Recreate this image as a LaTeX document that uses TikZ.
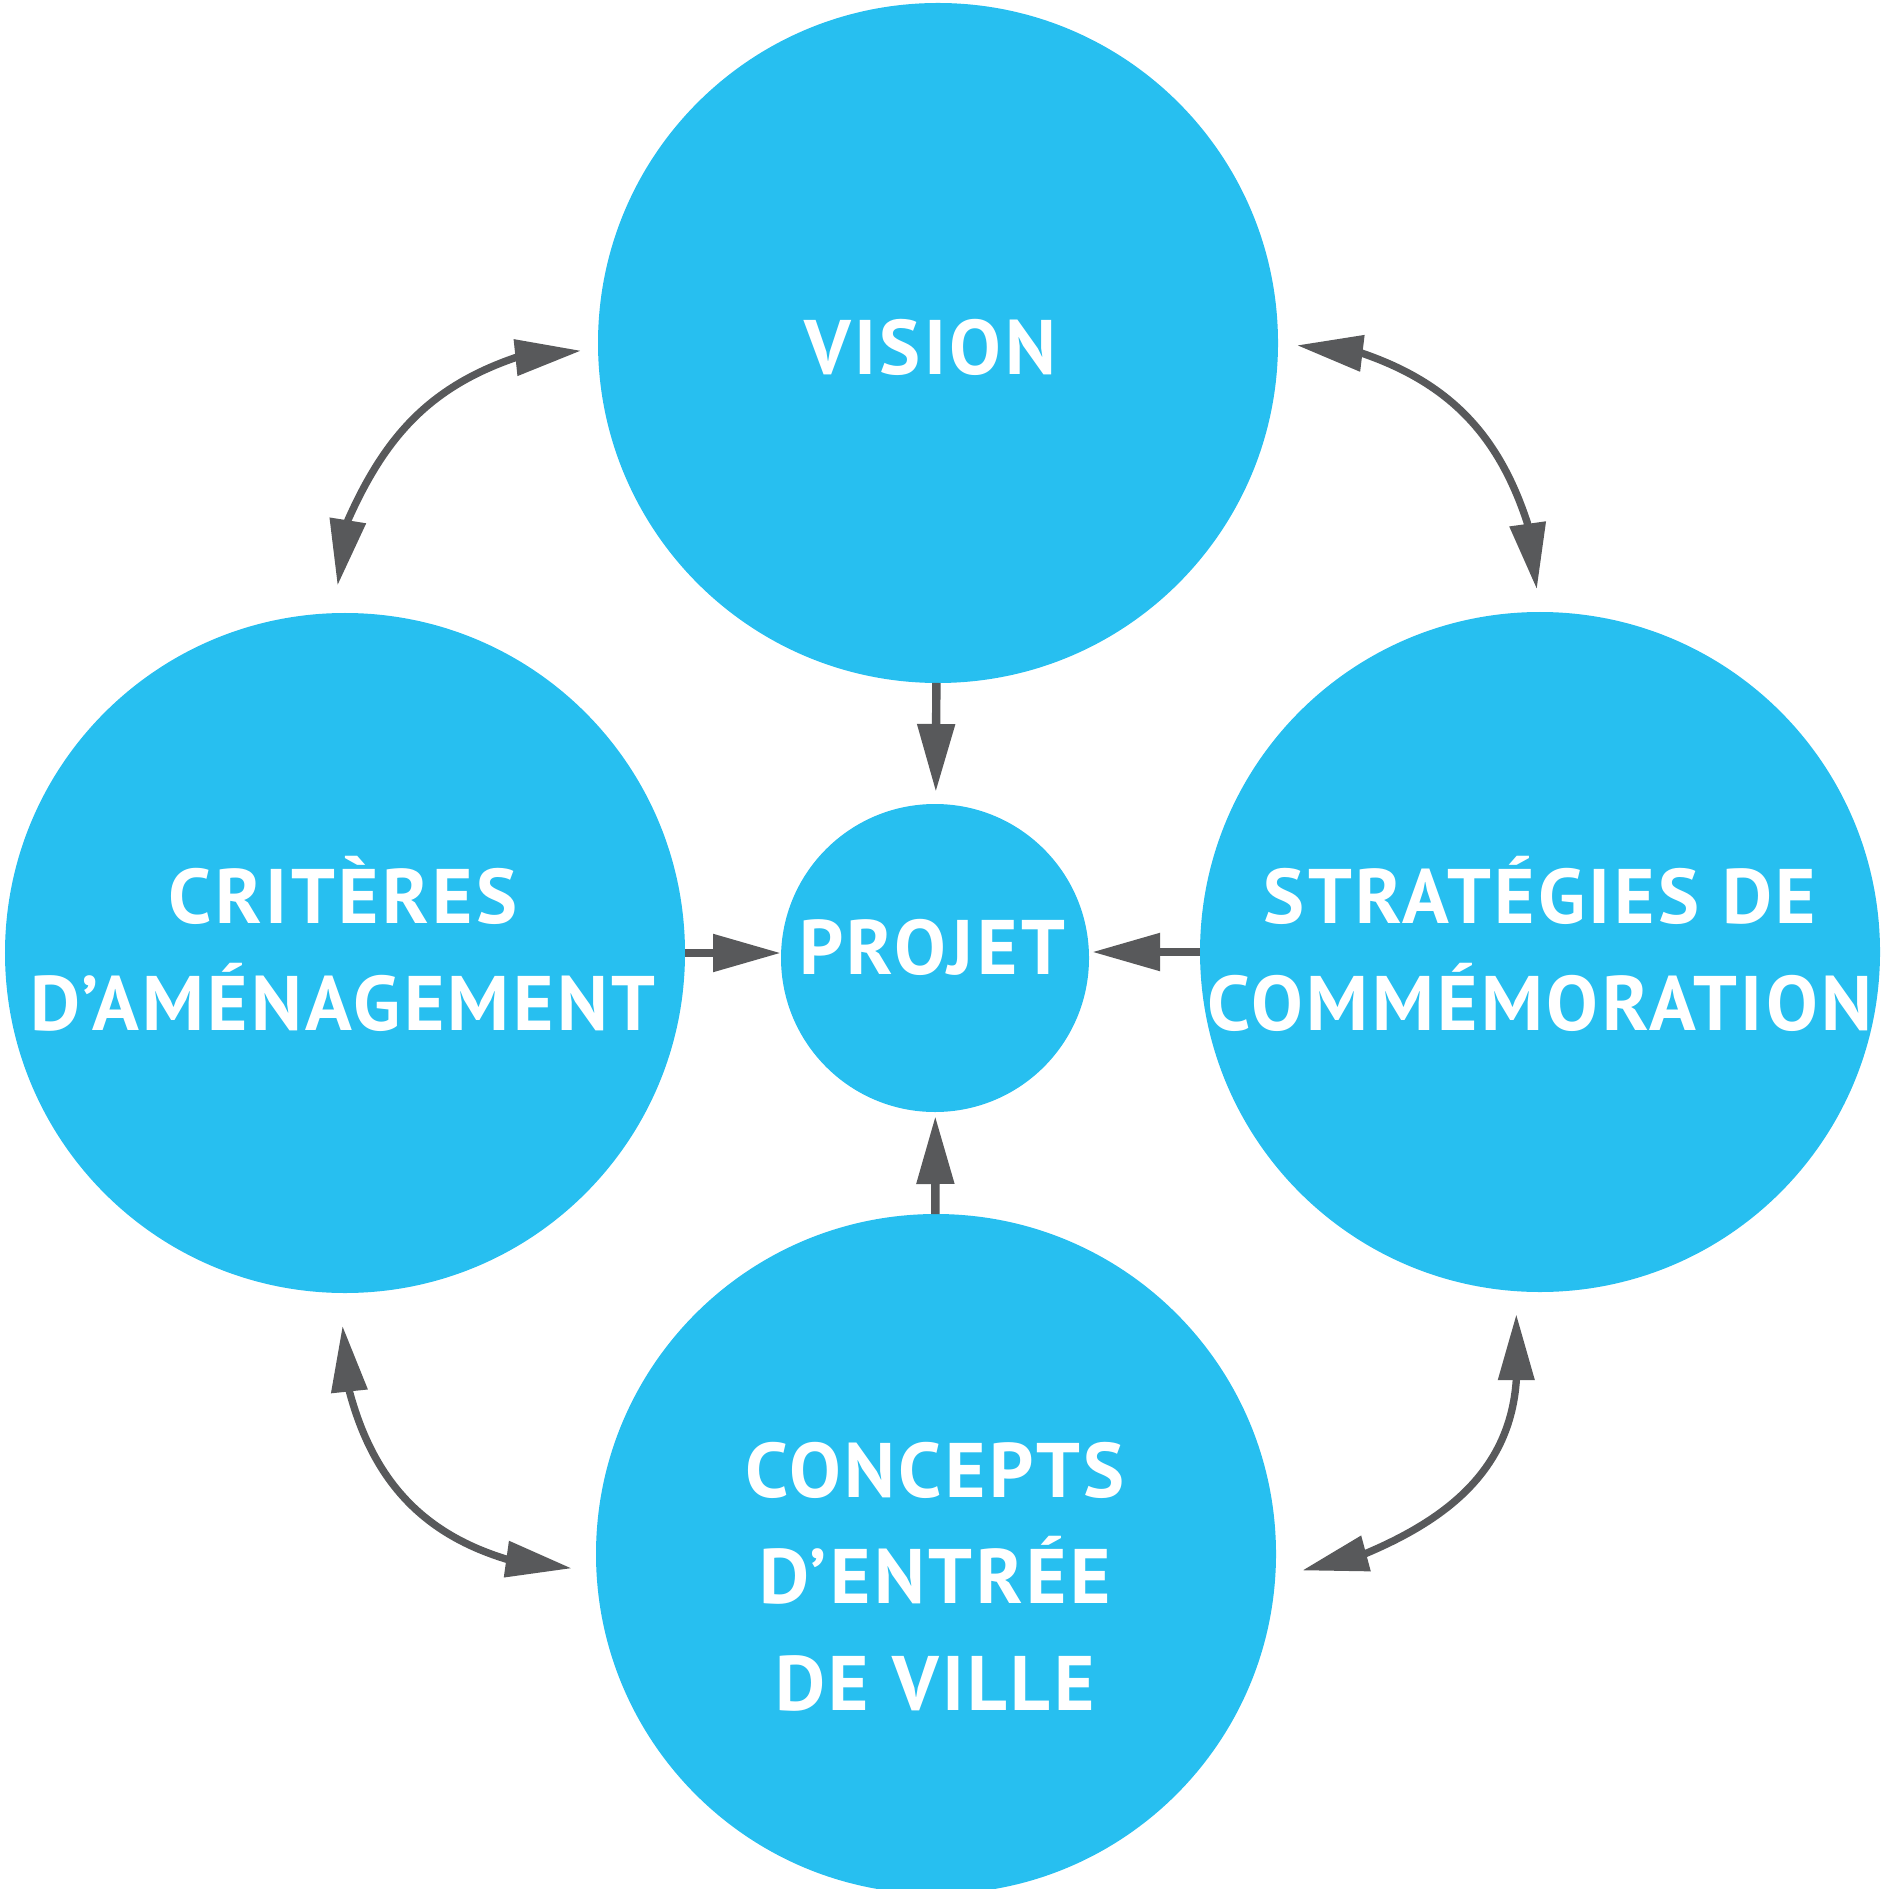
\documentclass[tikz,border=0pt]{standalone}
\usepackage{fontspec}
\setmainfont{PT Sans}
\newfontfamily\etiquette[LetterSpace=4.5]{PT Sans}
\usetikzlibrary{arrows.meta,calc}
\definecolor{bleuciel}{RGB}{39,191,240}
\definecolor{grisfonce}{RGB}{88,89,91}

\begin{document}
\begin{tikzpicture}[>={Triangle[length=6.8mm,width=3.6mm]},
  bulle/.style={circle,fill=bleuciel,inner sep=0pt,outer sep=0pt,minimum size=6.8cm},
  mot/.style={text=white,font=\etiquette\bfseries\fontsize{22}{30.2}\selectfont,align=center,anchor=base,inner sep=0pt},
  lien/.style={draw=grisfonce,line width=2.4pt,->},
  boucle/.style={draw=grisfonce,line width=2.1pt,<->,>={Triangle[length=6.6mm,width=3.5mm]}}]
\useasboundingbox (0,0) rectangle (18.85,-18.89);

% les cinq bulles
\node[bulle] (vision) at (9.38,-3.43) {};
\node[bulle] (criteres) at (3.45,-9.53) {};
\node[bulle] (strategies) at (15.40,-9.52) {};
\node[bulle] (concepts) at (9.36,-15.54) {};
\node[bulle,minimum size=3.08cm] (projet) at (9.35,-9.58) {};

\node[mot] at (9.30,-3.75) {VISION};
\node[mot] at (3.43,-10.30) {CRITÈRES\\D’AMÉNAGEMENT};
\node[mot] at (15.40,-10.30) {STRATÉGIES DE\\COMMÉMORATION};
\node[mot] at (9.32,-9.74) {PROJET};
\node[mot] at (9.35,-17.10) {CONCEPTS\\D’ENTRÉE\\DE VILLE};

% vers le projet
\draw[lien,shorten >=1.2mm] (vision) -- (projet);
\draw[lien] (criteres) -- (criteres -| projet.west);
\draw[lien,shorten >=0.3mm] (strategies) -- (strategies -| projet.east);
\draw[lien,shorten >=0.4mm] (concepts) -- (projet);

% allers-retours
\draw[boucle,shorten <=1.7mm,shorten >=2.8mm] (vision.181) -- ++(186:0.83)
  to[out=199,in=66] ($(criteres.92.5)+(81:0.94)$) -- (criteres.92.5);
\draw[boucle,shorten <=1.9mm,shorten >=2.3mm] (vision.0) -- ++(-7:0.85)
  to[out=-19,in=108] ($(strategies.90.5)+(98:0.89)$) -- (strategies.90.5);
\draw[boucle,shorten <=3.3mm,shorten >=2.5mm] (criteres.269) -- ++(276:0.99)
  to[out=285,in=163] ($(concepts.183.3)+(172:0.91)$) -- (concepts.183.3);
\draw[boucle,shorten <=2.3mm,shorten >=2.8mm] (strategies.266.8) -- ++(270:0.89)
  to[out=266,in=23] ($(concepts.356.6)+(15:0.94)$) -- (concepts.356.6);

\end{tikzpicture}
\end{document}
